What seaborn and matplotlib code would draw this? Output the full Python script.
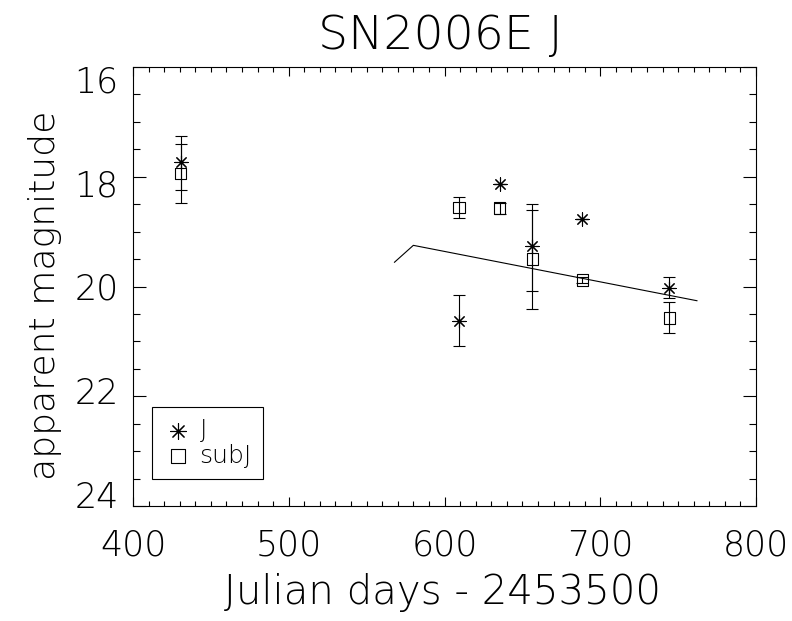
import matplotlib
matplotlib.use("Agg")
import matplotlib.pyplot as plt
import matplotlib.transforms as mtransforms
from matplotlib.ticker import MultipleLocator, FixedLocator
import numpy as np
import seaborn as sns

# ---------------- data ----------------
days = [430.6, 609.3, 635.4, 656.5, 688.5, 744.4]
J_mag = [17.74, 20.63, 18.13, 19.27, 18.77, 20.02]
J_bright = [17.25, 20.16, 18.13, 18.60, 18.77, 19.83]
J_faint = [18.47, 21.08, 18.13, 20.08, 18.77, 20.21]
subJ_mag = [17.94, 18.56, 18.57, 19.50, 19.88, 20.57]
subJ_bright = [17.41, 18.36, 18.47, 18.50, 19.83, 20.29]
subJ_faint = [18.25, 18.75, 18.67, 20.41, 19.93, 20.85]
model_days = [567.8, 580.0, 762.2]
model_mag = [19.56, 19.25, 20.26]
x_ticks = [400, 500, 600, 700, 800]
y_ticks = [16, 18, 20, 22, 24]
title_text = "SN2006E J"
xlabel_text = "Julian days - 2453500"
ylabel_text = "apparent magnitude"
series_labels = ["J", "subJ"]

# ---------------- style ----------------
sns.set_theme(style="ticks")
plt.rcParams["font.family"] = ["DejaVu Sans"]
plt.rcParams["font.weight"] = "light"
plt.rcParams["axes.linewidth"] = 0.8

W, H = 792, 621
fig = plt.figure(figsize=(W / 100, H / 100), dpi=100)
fig.patch.set_facecolor("white")
ax = fig.add_axes([133 / W, 1 - 506 / H, (756 - 133) / W, (506 - 67) / H])
ax.set_facecolor("white")

# error bars
J_arr = np.array(J_mag)
S_arr = np.array(subJ_mag)
ax.errorbar(days, J_mag, yerr=[J_arr - np.array(J_bright), np.array(J_faint) - J_arr],
            fmt="none", ecolor="black", elinewidth=0.8, capsize=4, capthick=0.8)
ax.errorbar(days, subJ_mag, yerr=[S_arr - np.array(subJ_bright), np.array(subJ_faint) - S_arr],
            fmt="none", ecolor="black", elinewidth=0.8, capsize=4, capthick=0.8)

# model line
sns.lineplot(x=model_days, y=model_mag, sort=False, estimator=None, color="black",
             linewidth=0.8, ax=ax)

# markers
sns.scatterplot(x=days, y=J_mag, marker=(8, 2, 0), s=90, color="black",
                linewidth=0.8, ax=ax, label=series_labels[0], zorder=3)
sns.scatterplot(x=days, y=subJ_mag, marker="s", s=70, color="black",
                facecolor="none", edgecolor="black", linewidth=0.8, ax=ax,
                label=series_labels[1], zorder=3)

ax.set_xlim(400, 800)
ax.set_ylim(24, 16)
ax.xaxis.set_major_locator(FixedLocator(x_ticks))
ax.yaxis.set_major_locator(FixedLocator(y_ticks))
ax.xaxis.set_minor_locator(MultipleLocator(10))
ax.yaxis.set_minor_locator(MultipleLocator(0.5))
ax.set_xticklabels([str(t) for t in x_ticks])
ax.set_yticklabels([str(t) for t in y_ticks])

for sp in ax.spines.values():
    sp.set_color("black")
    sp.set_linewidth(0.8)

ax.tick_params(axis="both", which="both", direction="in", top=True, right=True,
               colors="black", width=0.8, labelsize=25)
ax.tick_params(axis="x", which="major", length=9 * 0.72, pad=16)
ax.tick_params(axis="x", which="minor", length=5 * 0.72)
ax.tick_params(axis="y", which="major", length=13 * 0.72, pad=10.5)
ax.tick_params(axis="y", which="minor", length=7 * 0.72)
ax.set_xlabel("")
ax.set_ylabel("")

# y tick labels sit inside the axis span (as in the reference)
for lab, v in zip(ax.get_yticklabels(), y_ticks):
    dy_px = 12 - 3 * (v - 16)
    lab.set_transform(lab.get_transform() +
                      mtransforms.ScaledTranslation(0, -dy_px / 100, fig.dpi_scale_trans))

# legend
leg = ax.legend(loc="upper left", bbox_to_anchor=(152 / W, 1 - 407 / H),
                bbox_transform=fig.transFigure, borderaxespad=0, fontsize=18,
                frameon=True, fancybox=False, framealpha=1, edgecolor="black",
                borderpad=0.45, handlelength=1.2, handletextpad=0.25,
                labelspacing=0.05, scatterpoints=1, markerscale=1.2)
leg.get_frame().set_linewidth(0.8)
for t in leg.get_texts():
    t.set_color("black")

# titles / labels as figure text
fig.text(440 / W, 1 - 49 / H, title_text, ha="center", va="baseline", fontsize=34,
         color="black")
fig.text(443 / W, 1 - 604 / H, xlabel_text, ha="center", va="baseline", fontsize=29,
         color="black")
fig.text(55 / W, 1 - 295 / H, ylabel_text, ha="center", va="baseline", rotation=90,
         rotation_mode="anchor", fontsize=26, color="black")

fig.savefig("out.png", dpi=100, facecolor="white")
